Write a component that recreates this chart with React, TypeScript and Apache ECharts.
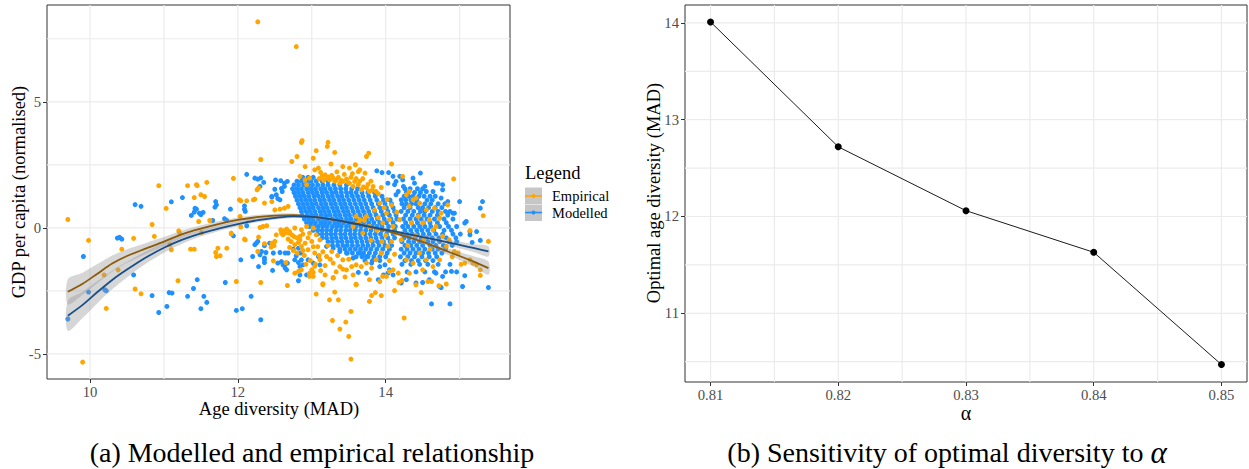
import React, { useEffect, useRef } from "react";
import * as echarts from "echarts";

const FONT = "'Liberation Serif', 'Times New Roman', serif";

// ---------- Panel (a): data ----------
const gdpXTicks = [10, 12, 14];
const gdpYTicks = [-5, 0, 5];
const gdpXGrid = [10, 11, 12, 13, 14, 15];
const gdpYGrid = [-5, -2.5, 0, 2.5, 5, 7.5];

// Empirical observations (orange)
const empiricalPts: number[][] = [
  [12.27, 8.17], [12.79, 7.19], [9.70, 0.33], [12.86, 3.39], [12.87, 3.46], [12.31, 2.71], [12.80, 2.83], [12.73, 2.63],
  [10.93, 1.67], [11.32, 1.67], [11.45, 1.67], [11.58, 1.80], [11.41, 1.20], [11.50, 1.31], [11.55, 1.24], [11.44, 1.71],
  [11.03, 0.77], [10.84, 0.13], [11.47, 0.25], [11.62, 0.29], [11.94, 1.96], [12.02, 1.11], [12.04, 1.07], [12.12, 1.07],
  [12.21, 1.11], [12.23, 1.14], [12.26, 1.51], [12.28, 1.58], [12.36, 0.98], [12.46, 1.04], [12.50, 0.71], [12.57, 0.74],
  [12.63, 0.78], [12.68, 0.85], [12.03, 0.45], [12.30, 0.01], [12.34, 0.05], [12.39, 0.08], [12.04, 0.03], [11.91, -0.24],
  [12.28, -0.37], [12.09, -0.45], [11.20, -0.12],
  [9.98, -0.50], [9.90, -5.33], [10.59, -0.42], [10.43, -0.85], [10.87, -0.34], [10.19, -1.87], [10.38, -1.67], [10.61, -2.43],
  [10.69, -2.62], [10.22, -3.20], [11.21, -0.19], [11.36, -0.85], [11.41, -0.85], [11.51, -0.19], [11.73, -0.81], [11.70, -0.98],
  [11.76, -1.11], [11.85, -0.81], [11.71, -1.14], [11.19, -2.10], [11.98, -2.13], [11.91, -0.21], [12.10, -0.48], [12.31, -2.17],
  [12.36, -0.63], [12.46, -0.61], [12.52, -0.28], [12.59, -0.21], [12.69, -0.21], [12.65, -1.38], [12.67, -2.29], [12.77, -1.80],
  [12.82, -1.73], [12.86, -1.67], [12.97, -1.80], [13.02, -1.93], [13.00, -1.67], [13.04, -1.53], [13.06, -2.63], [11.08, -0.67],
  [11.10, -0.87], [12.49, -0.71], [12.45, -0.77], [12.50, -0.54], [12.48, -1.31], [12.27, -0.94],
  [13.10, 1.95], [13.14, 2.05], [13.18, 2.10], [13.20, 1.97], [13.24, 1.90], [13.22, 2.02], [13.27, 2.08], [13.29, 1.97],
  [13.31, 1.85], [13.33, 1.90], [13.36, 2.00], [13.38, 1.77], [13.40, 1.88], [13.42, 1.84], [13.44, 2.12], [13.47, 1.93],
  [13.49, 1.80], [13.51, 1.77], [13.53, 2.00], [13.56, 1.64], [13.58, 1.84], [13.60, 1.95], [13.63, 1.71], [13.65, 1.85],
  [13.67, 1.51], [13.70, 1.62], [13.74, 1.58], [13.76, 1.72], [13.78, 1.44], [13.82, 1.50], [13.87, 1.44], [13.83, 1.64],
  [13.90, 1.35], [13.04, 2.30], [13.09, 2.37], [13.42, 2.43], [13.51, 2.37], [13.59, 2.50], [13.63, 2.23], [13.65, 2.30],
  [13.72, 2.17], [13.26, 2.53], [13.02, 2.76], [12.91, 2.43], [13.06, 3.06], [13.31, 2.99], [13.74, 2.83], [13.77, 2.96],
  [14.08, 2.53], [12.86, 3.40], [13.22, 3.39], [13.21, 3.23], [12.84, 2.04], [12.91, 1.90], [12.97, 1.97], [12.93, 1.71],
  [13.12, 2.20], [13.16, 1.88], [13.34, 2.22], [13.55, 2.15], [13.69, 1.95], [13.80, 1.85], [13.94, 1.60],
  [12.58, -0.08], [12.64, -0.21], [12.70, -0.15], [12.77, -0.01], [12.86, -0.08], [12.84, -0.34], [12.73, -0.28], [12.61, -0.28],
  [12.77, -0.67], [12.82, -0.58], [12.86, -0.74], [12.93, 0.05], [12.97, -0.21], [13.02, -0.01], [12.84, -0.48], [12.91, -0.61],
  [13.00, -0.54], [13.06, -0.28], [13.11, -0.48], [12.95, -0.87], [13.04, -1.00], [13.11, -1.27], [13.20, -1.14], [13.27, -0.94],
  [13.29, -1.40], [13.38, -1.54], [13.42, -1.27], [13.47, -1.67], [13.54, -1.54], [13.60, -1.47], [13.56, -1.87], [13.67, -1.54],
  [13.74, -1.40], [13.81, -1.60], [13.02, -1.77], [12.97, -1.93], [13.18, -1.87], [13.29, -2.00], [13.15, -2.26], [13.60, -2.26],
  [12.80, -0.40], [12.68, -0.45], [12.75, -0.90], [12.90, -1.10], [12.98, -1.30], [13.08, -0.75], [13.15, -0.95], [13.22, -0.70],
  [13.18, -1.50], [13.25, -1.25], [13.35, -1.10], [13.50, -1.25], [12.72, -0.55], [12.66, -0.05], [12.88, -0.25], [12.95, -0.40],
  [13.05, -1.45], [13.12, -1.70], [13.33, -1.75], [13.45, -1.95], [12.80, -1.00], [12.70, -0.78], [12.92, -1.45], [12.88, -0.90],
  [13.02, -0.75], [13.10, -1.10], [12.76, -0.35], [12.62, -0.12],
  [13.92, 0.98], [14.01, 0.58], [14.05, 0.32], [14.10, 0.05], [14.19, 0.32], [13.96, 0.19], [14.14, -0.21], [14.21, -0.48],
  [14.03, -0.74], [13.94, -1.00], [13.87, -1.27], [14.10, -1.67], [14.17, -1.80], [14.01, -1.93], [13.60, 0.45], [13.65, 0.32],
  [13.74, 0.45], [13.78, 0.05], [13.56, 0.05], [13.69, -0.21], [13.85, 0.70], [13.98, 0.80], [14.08, 0.90], [13.90, 0.40],
  [14.00, -0.30], [14.08, -0.55], [13.80, -0.50], [13.88, -0.10], [13.95, -0.55], [14.12, -1.05], [14.05, -1.30], [14.15, 0.62],
  [14.02, 1.12], [13.63, 0.18], [13.71, 0.30],
  [13.15, -2.22], [13.29, -1.97], [13.42, -1.64], [13.60, -2.24], [13.78, -2.06], [13.92, -2.13], [13.96, -1.93], [14.05, -1.73],
  [13.24, -2.86], [13.36, -2.86], [13.31, -2.55], [13.53, -3.32], [13.28, -3.68], [13.46, -3.74], [13.38, -4.02], [13.50, -4.31],
  [13.53, -5.21], [13.78, -2.92], [13.81, -2.69], [13.86, -2.57], [13.94, -2.69], [14.25, -3.58], [14.12, -2.49], [14.18, -2.17],
  [14.22, -2.09], [14.48, -2.57],
  [14.92, 1.94], [15.32, 0.48], [15.39, -0.54], [15.14, -0.11], [15.07, -1.40], [15.14, -1.27], [15.18, -1.40], [15.23, -1.47],
  [15.28, -1.67], [15.28, -1.89], [14.82, -2.23], [14.72, -2.30], [14.62, -2.13], [14.57, -2.13], [14.41, -2.26], [14.93, -0.94],
  [14.98, -1.00], [14.82, -0.74], [14.86, -0.48], [14.77, -0.34], [14.64, -0.08], [14.68, 0.05], [14.59, 0.32], [14.55, 0.71],
  [14.46, 0.98], [14.37, 1.11], [14.28, 1.31], [14.32, 0.85], [14.44, 0.45], [14.50, 0.19], [14.73, 0.38], [14.66, 0.78],
  [14.84, 0.91], [14.75, 0.58], [14.46, -1.00], [14.55, -1.27], [14.64, -1.54], [14.73, -1.27], [14.37, -1.40], [14.28, -1.27],
  [14.50, -1.67], [14.32, -1.80], [14.23, 2.04], [14.32, 1.44], [14.41, 1.18], [14.90, -1.15], [15.02, -1.45], [14.35, 0.20],
  [14.40, -0.30], [14.52, -0.45], [14.30, -0.70], [14.60, -0.85],
];

// Modelled observations (blue), scattered ones
const modelledPts: number[][] = [
  [12.12, 2.12], [12.23, 1.97], [12.27, 1.93], [12.31, 1.98], [12.35, 1.80], [12.30, 1.64], [10.61, 0.92], [10.69, 0.85],
  [11.10, 1.03], [11.25, 1.20], [11.42, 0.77], [11.44, 0.74], [11.48, 0.58], [11.37, 0.49], [11.41, 0.62], [11.53, 0.61],
  [11.50, 0.52], [11.70, 1.04], [11.71, 0.91], [11.69, 0.82], [11.90, 0.74], [11.66, 0.29], [11.85, 0.29], [11.82, 0.36],
  [12.09, 0.74], [12.09, 0.87], [12.10, 0.65], [12.46, 1.22], [12.54, 1.16], [12.59, 1.56], [12.50, 1.53], [12.51, 1.90],
  [12.58, 1.87], [12.63, 1.77], [12.63, 1.64], [12.67, 1.84], [12.60, 1.44], [12.52, 1.31], [12.46, 1.24], [12.57, 1.11],
  [9.91, -1.14], [9.98, -2.55], [9.70, -3.62], [10.37, -0.41], [10.43, -0.45], [10.40, -0.38], [10.59, -1.87], [10.20, -2.46],
  [10.22, -2.50], [10.84, -2.69], [10.93, -3.36], [11.04, -3.12], [11.07, -2.57], [11.11, -2.59], [11.32, -2.72], [11.40, -2.41],
  [11.45, -2.06], [11.50, -3.21], [11.54, -2.72], [11.58, -2.96], [11.83, -2.17], [11.98, -3.28], [12.06, -3.21], [12.04, -1.27],
  [12.18, -2.72], [12.31, -3.65], [12.23, -0.67], [12.25, -0.61], [12.27, -0.54], [12.30, -1.07], [12.28, -1.54], [12.36, -1.27],
  [12.38, -0.98], [12.48, -1.00], [12.47, -1.69], [12.54, -1.40], [12.61, -1.47], [12.64, -1.60], [12.67, -1.40], [12.68, -1.00],
  [12.75, -0.85], [12.82, -0.81], [12.82, -2.10], [12.93, -1.87], [12.95, -1.27], [12.43, -0.61], [11.94, -0.32], [12.12, 0.08],
  [12.32, -0.94], [12.36, -0.71], [12.20, -1.14], [12.36, -1.38], [12.36, -1.20], [12.48, -0.67], [12.57, -0.98], [12.64, -1.00],
  [12.59, -1.34], [12.64, -1.43], [12.66, -1.67], [12.77, -1.27], [12.79, -1.11], [12.82, -1.38], [12.84, -1.54], [12.85, -1.00],
  [13.88, 2.26], [13.95, 2.19], [14.04, 2.19], [14.03, 1.77], [14.10, 2.04], [14.14, 1.84], [14.19, 2.04], [14.12, 1.71],
  [14.17, 1.44], [14.14, 1.31], [14.21, 1.11], [14.24, 1.64],
  [12.86, -1.27], [12.88, -1.47], [12.84, -1.87], [13.02, -1.40], [13.11, -1.47], [13.09, -1.14],
  [13.20, -0.74], [13.29, -0.81], [13.38, -0.94], [13.47, -1.00], [13.56, -1.20], [13.65, -1.00], [13.74, -1.14], [13.81, -1.40],
  [13.92, -1.54], [13.99, -1.47], [14.05, -1.67], [13.90, -2.06], [13.97, -1.87], [14.10, -1.87], [13.74, -1.80], [13.63, -1.77],
  [14.03, -1.80],
  [14.47, 2.17], [14.23, 1.90], [14.37, 1.97], [14.39, 1.77], [14.53, 1.64], [14.55, 1.44], [14.64, 1.44], [14.71, 1.77],
  [14.77, 1.71], [14.77, 1.51], [14.75, 1.18], [14.84, 1.04], [15.00, 1.04], [14.91, 0.58], [14.93, 0.58], [15.09, 0.25],
  [15.07, 0.19], [15.14, -0.15], [15.14, -0.28], [15.23, -0.15], [15.28, 0.78], [15.31, 1.04], [15.28, -0.50], [15.17, -0.58],
  [15.07, -1.90], [15.04, -2.33], [15.39, -2.37], [14.62, -3.02], [14.87, -3.02], [14.73, -2.33], [14.75, -2.37], [14.89, -1.73],
  [14.77, -1.93], [14.68, -1.80], [14.59, -2.06], [14.41, -2.19], [14.28, -2.06], [14.21, -2.19], [14.50, -2.17], [14.68, 1.77],
];

// Dense cloud of modelled points, one row per GDP level: [y, x1, x2, ...]
const modelledCoreRows: number[][] = [
  [2.0, 12.88, 12.95, 13.02],
  [1.85, 12.80, 12.86, 12.93, 12.99, 13.06, 13.14, 13.22],
  [1.7, 12.76, 12.82, 12.89, 12.95, 13.01, 13.08, 13.15, 13.22, 13.30, 13.38, 13.47],
  [1.55, 12.74, 12.80, 12.86, 12.93, 12.99, 13.05, 13.12, 13.18, 13.25, 13.32, 13.39, 13.46, 13.54, 13.62],
  [1.4, 12.76, 12.82, 12.88, 12.95, 13.01, 13.07, 13.14, 13.20, 13.27, 13.33, 13.40, 13.47, 13.53, 13.60, 13.68, 13.76, 13.85],
  [1.25, 12.78, 12.84, 12.90, 12.96, 13.03, 13.09, 13.15, 13.22, 13.28, 13.35, 13.41, 13.48, 13.55, 13.62, 13.69, 13.77, 13.86, 13.95],
  [1.1, 12.80, 12.86, 12.92, 12.98, 13.04, 13.11, 13.17, 13.24, 13.30, 13.37, 13.43, 13.50, 13.57, 13.64, 13.71, 13.79, 13.88, 13.97, 14.06],
  [0.95, 12.82, 12.88, 12.94, 13.00, 13.06, 13.13, 13.19, 13.26, 13.32, 13.39, 13.45, 13.52, 13.59, 13.66, 13.73, 13.81, 13.90, 13.99, 14.08],
  [0.8, 12.84, 12.90, 12.96, 13.02, 13.09, 13.15, 13.21, 13.28, 13.34, 13.41, 13.47, 13.54, 13.61, 13.68, 13.75, 13.83, 13.92, 14.01, 14.10],
  [0.65, 12.86, 12.92, 12.98, 13.04, 13.11, 13.17, 13.23, 13.30, 13.36, 13.43, 13.49, 13.56, 13.63, 13.70, 13.77, 13.85, 13.94, 14.03, 14.12],
  [0.5, 12.87, 12.94, 13.00, 13.06, 13.13, 13.19, 13.25, 13.32, 13.38, 13.45, 13.51, 13.58, 13.65, 13.72, 13.79, 13.87, 13.96, 14.05, 14.14],
  [0.35, 12.90, 12.96, 13.02, 13.09, 13.15, 13.21, 13.28, 13.34, 13.40, 13.47, 13.53, 13.60, 13.67, 13.74, 13.81, 13.89, 13.98, 14.07, 14.15],
  [0.2, 12.93, 12.99, 13.05, 13.12, 13.18, 13.24, 13.31, 13.37, 13.43, 13.50, 13.56, 13.63, 13.70, 13.77, 13.84, 13.92, 14.01, 14.10],
  [0.05, 12.97, 13.03, 13.09, 13.15, 13.21, 13.28, 13.34, 13.40, 13.47, 13.53, 13.60, 13.67, 13.74, 13.81, 13.88, 13.95, 14.04, 14.13],
  [-0.1, 13.02, 13.08, 13.14, 13.20, 13.26, 13.33, 13.39, 13.46, 13.52, 13.59, 13.66, 13.73, 13.80, 13.87, 13.95, 14.03, 14.12],
  [-0.25, 13.08, 13.14, 13.20, 13.26, 13.32, 13.39, 13.45, 13.52, 13.58, 13.65, 13.72, 13.79, 13.86, 13.93, 14.01, 14.10],
  [-0.4, 13.14, 13.20, 13.27, 13.33, 13.40, 13.46, 13.53, 13.59, 13.66, 13.73, 13.80, 13.87, 13.95, 14.03, 14.12],
  [-0.55, 13.22, 13.28, 13.35, 13.41, 13.48, 13.54, 13.61, 13.68, 13.75, 13.82, 13.89, 13.97, 14.06],
  [-0.7, 13.28, 13.35, 13.42, 13.48, 13.55, 13.62, 13.69, 13.76, 13.83, 13.91, 13.99, 14.08],
  [-0.85, 13.38, 13.45, 13.52, 13.59, 13.66, 13.73, 13.80, 13.88, 13.96, 14.05],
  [-1.0, 13.48, 13.55, 13.63, 13.70, 13.78, 13.86, 13.94, 14.02],
  [-1.15, 13.60, 13.68, 13.76, 13.84, 13.92, 14.00],
  [-1.3, 13.72, 13.82, 13.92],
];

// Less dense modelled points on the right: [y, x1, x2, ...]
const modelledRightRows: number[][] = [
  [1.55, 14.26, 14.33, 14.43, 14.50],
  [1.4, 14.28, 14.39, 14.47],
  [1.25, 14.25, 14.31, 14.37, 14.45, 14.52, 14.60, 14.67],
  [1.1, 14.27, 14.34, 14.42, 14.56, 14.63],
  [0.95, 14.22, 14.28, 14.35, 14.41, 14.53, 14.61, 14.71, 14.80],
  [0.8, 14.25, 14.33, 14.44, 14.50, 14.58, 14.67, 14.76],
  [0.65, 14.21, 14.30, 14.38, 14.47, 14.53, 14.63, 14.71, 14.81, 14.87],
  [0.5, 14.27, 14.36, 14.44, 14.52, 14.60, 14.70, 14.84],
  [0.35, 14.24, 14.33, 14.41, 14.48, 14.56, 14.66, 14.79, 14.91],
  [0.2, 14.27, 14.35, 14.43, 14.51, 14.60, 14.70, 14.82],
  [0.05, 14.23, 14.30, 14.38, 14.46, 14.53, 14.61, 14.73, 14.85, 14.96],
  [-0.1, 14.26, 14.34, 14.42, 14.49, 14.57, 14.65, 14.79, 14.89],
  [-0.25, 14.22, 14.29, 14.36, 14.43, 14.51, 14.59, 14.68, 14.77, 14.91, 15.01],
  [-0.4, 14.25, 14.32, 14.40, 14.48, 14.55, 14.63, 14.72, 14.82, 14.95],
  [-0.55, 14.22, 14.31, 14.38, 14.46, 14.57, 14.64, 14.73, 14.86, 14.96],
  [-0.7, 14.26, 14.34, 14.42, 14.50, 14.60, 14.68, 14.78, 14.90],
  [-0.85, 14.21, 14.29, 14.37, 14.45, 14.53, 14.63, 14.71, 14.81],
  [-1.0, 14.25, 14.33, 14.41, 14.50, 14.58, 14.67, 14.76],
  [-1.15, 14.20, 14.30, 14.39, 14.49, 14.59, 14.69],
  [-1.3, 14.26, 14.35, 14.44, 14.54, 14.64],
  [-1.45, 14.22, 14.34, 14.46, 14.57, 14.71, 14.87],
  [-1.75, 14.29, 14.41, 14.53, 14.66, 14.81, 14.96],
];

// Fitted smooth curves with standard-error half widths
const fitX = [9.70, 9.90, 10.10, 10.30, 10.50, 10.75, 11.00, 11.25, 11.50, 11.75, 12.00, 12.25, 12.50, 12.75, 13.00, 13.25, 13.50, 13.75, 14.00, 14.25, 14.50, 14.75, 15.00, 15.20, 15.39];
const empFit = [-2.54, -2.22, -1.82, -1.42, -1.12, -0.83, -0.55, -0.25, -0.03, 0.16, 0.31, 0.42, 0.48, 0.50, 0.44, 0.34, 0.21, 0.06, -0.11, -0.32, -0.56, -0.84, -1.12, -1.35, -1.60];
const empSe = [0.50, 0.44, 0.38, 0.32, 0.27, 0.22, 0.18, 0.15, 0.13, 0.11, 0.10, 0.09, 0.08, 0.07, 0.06, 0.06, 0.06, 0.06, 0.06, 0.07, 0.09, 0.12, 0.16, 0.21, 0.26];
const modFit = [-3.49, -3.06, -2.55, -2.07, -1.66, -1.19, -0.79, -0.47, -0.22, -0.02, 0.15, 0.29, 0.39, 0.45, 0.43, 0.34, 0.21, 0.07, -0.07, -0.22, -0.37, -0.52, -0.68, -0.81, -0.94];
const modSe = [0.60, 0.52, 0.44, 0.37, 0.31, 0.25, 0.20, 0.16, 0.13, 0.11, 0.09, 0.08, 0.07, 0.06, 0.05, 0.05, 0.05, 0.05, 0.05, 0.06, 0.07, 0.10, 0.13, 0.16, 0.20];

// ---------- Panel (b) ----------
const alphaVals = [0.81, 0.82, 0.83, 0.84, 0.85];
const optimalDiv = [14.01, 12.72, 12.06, 11.63, 10.47];
const alphaTicks = [0.81, 0.82, 0.83, 0.84, 0.85];
const optTicks = [11, 12, 13, 14];
const alphaGrid = [0.81, 0.815, 0.82, 0.825, 0.83, 0.835, 0.84, 0.845, 0.85];
const optGrid = [10.5, 11, 11.5, 12, 12.5, 13, 13.5, 14];

const ORANGE = "#FFA500";
const BLUE = "#1E90FF";
const GRID_COLOR = "#EBEBEB";

function rowsToPoints(rows: number[][]): number[][] {
  const out: number[][] = [];
  rows.forEach((r) => {
    for (let i = 1; i < r.length; i++) out.push([r[i], r[0]]);
  });
  return out;
}

function xAxisDef(gi: number, min: number, max: number, ticks: number[]) {
  return {
    type: "value", gridIndex: gi, min, max, position: "bottom",
    axisLine: { show: false, onZero: false },
    splitLine: { show: false },
    axisTick: { show: true, customValues: ticks, length: 4, lineStyle: { color: "#333333", width: 1 } },
    axisLabel: { show: true, customValues: ticks, color: "#4D4D4D", fontFamily: FONT, fontSize: 14.7, margin: 5 },
  };
}
function yAxisDef(gi: number, min: number, max: number, ticks: number[]) {
  return {
    type: "value", gridIndex: gi, min, max, position: "left",
    axisLine: { show: false, onZero: false },
    splitLine: { show: false },
    axisTick: { show: true, customValues: ticks, length: 4, lineStyle: { color: "#333333", width: 1 } },
    axisLabel: { show: true, customValues: ticks, color: "#4D4D4D", fontFamily: FONT, fontSize: 14.7, margin: 6 },
  };
}

function gridLines(gi: number, xs: number[], ys: number[], xMin: number, yMin: number) {
  const render = (vertical: boolean) => (params: any, api: any) => {
    const cs = params.coordSys;
    const p = api.coord([api.value(0), api.value(1)]);
    const shape = vertical
      ? { x1: p[0], y1: cs.y, x2: p[0], y2: cs.y + cs.height }
      : { x1: cs.x, y1: p[1], x2: cs.x + cs.width, y2: p[1] };
    return { type: "line", shape, style: { stroke: GRID_COLOR, lineWidth: 1.2 }, silent: true };
  };
  return [
    { type: "custom", xAxisIndex: gi, yAxisIndex: gi, z: 1, silent: true, data: xs.map((v) => [v, yMin]), renderItem: render(true) },
    { type: "custom", xAxisIndex: gi, yAxisIndex: gi, z: 1, silent: true, data: ys.map((v) => [xMin, v]), renderItem: render(false) },
  ];
}

function band(fit: number[], se: number[]) {
  return {
    type: "custom", xAxisIndex: 0, yAxisIndex: 0, z: 5, silent: true,
    data: fitX.map((x, i) => [x, fit[i]]),
    renderItem: (params: any, api: any) => {
      if (params.dataIndex !== 0) return null;
      const upper = fitX.map((x, i) => api.coord([x, fit[i] + se[i]]));
      const lower = fitX.map((x, i) => api.coord([x, fit[i] - se[i]])).reverse();
      return { type: "polygon", shape: { points: upper.concat(lower), smooth: 0.3 }, style: { fill: "rgba(153,153,153,0.4)" } };
    },
  };
}

export default function App() {
  const ref = useRef<HTMLDivElement>(null);
  useEffect(() => {
    if (!ref.current) return;
    const chart = echarts.init(ref.current, undefined, { renderer: "svg" });
    const modelledAll = modelledPts.concat(rowsToPoints(modelledCoreRows), rowsToPoints(modelledRightRows));
    const txt = (text: string, x: number, y: number, size: number, extra: any = {}) => ({
      type: "text", x, y, silent: true, ...extra,
      style: { text, fontFamily: FONT, fontSize: size, fill: "#000", align: "center", verticalAlign: "middle", ...(extra.style || {}) },
    });
    const option: any = {
      animation: false,
      backgroundColor: "#ffffff",
      grid: [
        { left: 47, top: 5, width: 463, height: 374, show: true, borderColor: "#333333", borderWidth: 1, backgroundColor: "#fff" },
        { left: 685, top: 5, width: 562, height: 377, show: true, borderColor: "#333333", borderWidth: 1, backgroundColor: "#fff" },
      ],
      xAxis: [xAxisDef(0, 9.418, 15.682, gdpXTicks), xAxisDef(1, 0.808, 0.852, alphaTicks)],
      yAxis: [yAxisDef(0, -6.0, 8.84, gdpYTicks), yAxisDef(1, 10.29, 14.185, optTicks)],
      series: [
        ...gridLines(0, gdpXGrid, gdpYGrid, 9.418, -6.0),
        ...gridLines(1, alphaGrid, optGrid, 0.808, 10.29),
        {
          type: "scatter", xAxisIndex: 0, yAxisIndex: 0, z: 3, silent: true,
          data: modelledAll, symbol: "circle", symbolSize: 5, itemStyle: { color: BLUE, opacity: 1 },
        },
        {
          type: "scatter", xAxisIndex: 0, yAxisIndex: 0, z: 4, silent: true,
          data: empiricalPts, symbol: "circle", symbolSize: 5, itemStyle: { color: ORANGE, opacity: 1 },
        },
        band(empFit, empSe),
        band(modFit, modSe),
        {
          type: "line", xAxisIndex: 0, yAxisIndex: 0, z: 6, silent: true, symbol: "none", smooth: 0.3,
          data: fitX.map((x, i) => [x, empFit[i]]), lineStyle: { color: "#8B5A0A", width: 1.8 },
        },
        {
          type: "line", xAxisIndex: 0, yAxisIndex: 0, z: 6, silent: true, symbol: "none", smooth: 0.3,
          data: fitX.map((x, i) => [x, modFit[i]]), lineStyle: { color: "#1A4F86", width: 1.8 },
        },
        {
          type: "line", xAxisIndex: 1, yAxisIndex: 1, z: 4, silent: true,
          data: alphaVals.map((a, i) => [a, optimalDiv[i]]),
          symbol: "circle", symbolSize: 7, itemStyle: { color: "#000", opacity: 1 },
          lineStyle: { color: "#1a1a1a", width: 1 },
        },
      ],
      graphic: [
        txt("Age diversity (MAD)", 279, 409, 18.5),
        txt("GDP per capita (normalised)", 19, 192, 18.5, { rotation: Math.PI / 2 }),
        txt("Optimal age diversity (MAD)", 654, 193, 18.5, { rotation: Math.PI / 2 }),
        txt("α", 966, 413, 20),
        txt("Legend", 525, 172.5, 18.5, { style: { align: "left" } }),
        { type: "rect", shape: { x: 525, y: 187.5, width: 17, height: 16.5 }, style: { fill: "#c6c6c6" }, silent: true },
        { type: "rect", shape: { x: 525, y: 204.5, width: 17, height: 16.5 }, style: { fill: "#c6c6c6" }, silent: true },
        { type: "line", shape: { x1: 525, y1: 196, x2: 542, y2: 196 }, style: { stroke: ORANGE, lineWidth: 1.6 }, silent: true },
        { type: "circle", shape: { cx: 533.5, cy: 196, r: 2 }, style: { fill: ORANGE }, silent: true },
        { type: "line", shape: { x1: 525, y1: 212.5, x2: 542, y2: 212.5 }, style: { stroke: BLUE, lineWidth: 1.6 }, silent: true },
        { type: "circle", shape: { cx: 533.5, cy: 212.5, r: 2 }, style: { fill: BLUE }, silent: true },
        txt("Empirical", 552, 196, 14.5, { style: { align: "left" } }),
        txt("Modelled", 552, 213, 14.5, { style: { align: "left" } }),
        txt("(a) Modelled and empirical relationship", 312, 452, 28),
        txt("(b) Sensitivity of optimal diversity to {a|α}", 947, 452, 28, {
          style: { rich: { a: { fontFamily: FONT, fontSize: 31, fontStyle: "italic" } } },
        }),
      ],
    };
    chart.setOption(option);
    return () => chart.dispose();
  }, []);
  return (
    <div
      ref={ref}
      style={{ position: "absolute", left: 0, top: 0, width: 1249, height: 469, background: "#fff" }}
    />
  );
}
